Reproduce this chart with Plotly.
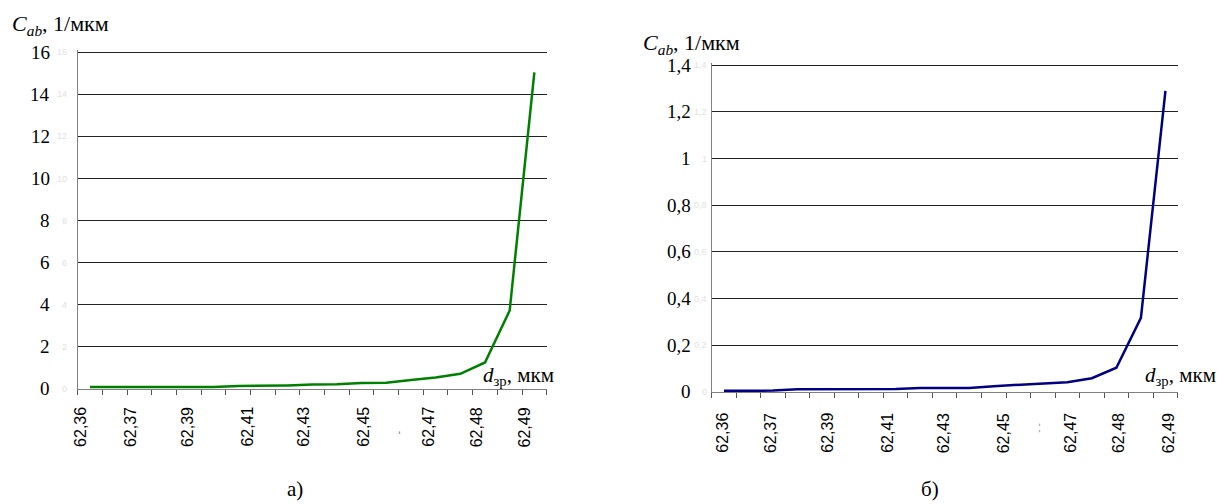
import plotly.graph_objects as go

# ---- data -------------------------------------------------------------
cat_index = list(range(19))  # 19 category points along d_зр
c_ab_a = [0.10, 0.10, 0.10, 0.10, 0.10, 0.10, 0.14, 0.15, 0.17, 0.21, 0.23,
          0.29, 0.30, 0.43, 0.55, 0.72, 1.26, 3.73, 15.05]
c_ab_b = [0.005, 0.005, 0.006, 0.012, 0.012, 0.012, 0.012, 0.013, 0.017, 0.017,
          0.017, 0.025, 0.030, 0.035, 0.042, 0.059, 0.104, 0.318, 1.29]
x_tick_labels = ["62,36", "62,37", "62,39", "62,41", "62,43", "62,45",
                 "62,47", "62,48", "62,49"]
# label positions in category units (as placed in the figure)
x_label_pos_a = [-0.41, 1.62, 3.93, 6.34, 8.62, 11.05, 13.68, 15.65, 17.6]
x_label_pos_b = [-0.09, 1.88, 4.19, 6.64, 8.94, 11.39, 14.1, 16.07, 18.11]
y_ticks_a = [0, 2, 4, 6, 8, 10, 12, 14, 16]
y_ticks_b = [0, 0.2, 0.4, 0.6, 0.8, 1.0, 1.2, 1.4]

# page body has an 8px margin, so the figure is sized/positioned to compensate
OFF = 8
W, H = 1232 - OFF, 504 - OFF
SERIF = "Times New Roman, Liberation Serif, serif"
SANS = "Arial, Liberation Sans, sans-serif"

def px_x(p):
    return (p - OFF) / W

def px_y(p):
    return 1 - (p - OFF) / H

def fmt(v):
    return f"{v:g}".replace(".", ",")

fig = go.Figure()
fig.add_trace(go.Scatter(x=cat_index, y=c_ab_a, mode="lines",
                         line=dict(color="#008000", width=2.5),
                         xaxis="x", yaxis="y", showlegend=False))
fig.add_trace(go.Scatter(x=cat_index, y=c_ab_b, mode="lines",
                         line=dict(color="#000080", width=2.5),
                         xaxis="x2", yaxis="y2", showlegend=False))

boundaries = [i - 0.5 for i in range(20)]

common_x = dict(range=[-0.5, 18.5], tickvals=boundaries, showticklabels=False,
                ticks="outside", ticklen=5, tickcolor="#555555", tickwidth=1,
                showline=True, linecolor="#808080", linewidth=1,
                showgrid=False, zeroline=False, fixedrange=True)
common_y = dict(ticks="", showline=True, linecolor="#808080", linewidth=1,
                showgrid=True, gridcolor="#222222", gridwidth=1, zeroline=False,
                showticklabels=False)

# y ranges padded slightly above the top tick so its gridline is drawn
top_a, top_b = 16.1, 1.409
y0_a, ppu_a = 389.0, (389.0 - 52.3) / 16
y0_b, ppu_b = 392.0, (392.0 - 65.3) / 1.4

fig.update_layout(
    width=W, height=H, margin=dict(l=0, r=0, t=0, b=0),
    paper_bgcolor="white", plot_bgcolor="white", separators=", ",
    xaxis=dict(domain=[px_x(77.7), px_x(546.7)], anchor="y", **common_x),
    yaxis=dict(domain=[px_y(y0_a), px_y(y0_a - top_a * ppu_a)], anchor="x",
               range=[0, top_a], tickvals=y_ticks_a, **common_y),
    xaxis2=dict(domain=[px_x(711.7), px_x(1177.7)], anchor="y2", **common_x),
    yaxis2=dict(domain=[px_y(y0_b), px_y(y0_b - top_b * ppu_b)], anchor="x2",
                range=[0, top_b], tickvals=y_ticks_b, **common_y),
)

ann = []
# x tick labels (rotated)
for txt, p in zip(x_tick_labels, x_label_pos_a):
    ann.append(dict(x=p, xref="x", y=px_y(427), yref="paper", text=txt,
                    textangle=-90, showarrow=False, xanchor="center", yanchor="middle",
                    font=dict(family=SANS, size=16, color="black")))
for txt, p in zip(x_tick_labels, x_label_pos_b):
    ann.append(dict(x=p, xref="x2", y=px_y(433), yref="paper", text=txt,
                    textangle=-90, showarrow=False, xanchor="center", yanchor="middle",
                    font=dict(family=SANS, size=16, color="black")))
# stray dash marks
ann.append(dict(x=12.46, xref="x", y=px_y(437), yref="paper", text="-",
                textangle=-90, showarrow=False, font=dict(family=SANS, size=11, color="#777777")))
ann.append(dict(x=12.81, xref="x2", y=px_y(435), yref="paper", text="- -",
                textangle=-90, showarrow=False, font=dict(family=SANS, size=10, color="#999999")))
# y tick labels: black serif ones plus faint original ones near the axis
for v in y_ticks_a:
    ann.append(dict(x=0, xref="x domain", y=v, yref="y", text=fmt(v), showarrow=False,
                    xanchor="right", xshift=-26, yanchor="middle",
                    font=dict(family=SERIF, size=19, color="black")))
    ann.append(dict(x=0, xref="x domain", y=v, yref="y", text=fmt(v), showarrow=False,
                    xanchor="right", xshift=-9, yanchor="middle",
                    font=dict(family=SANS, size=9, color="#e2e2e2")))
for v in y_ticks_b:
    ann.append(dict(x=0, xref="x2 domain", y=v, yref="y2", text=fmt(v), showarrow=False,
                    xanchor="right", xshift=-19, yanchor="middle",
                    font=dict(family=SERIF, size=19, color="black")))
    ann.append(dict(x=0, xref="x2 domain", y=v, yref="y2", text=fmt(v), showarrow=False,
                    xanchor="right", xshift=-3, yanchor="middle",
                    font=dict(family=SANS, size=9, color="#e2e2e2")))
# axis titles
ytitle = "<i>C</i><sub><i>ab</i></sub>, 1/мкм"
xtitle = "<i>d</i><sub>зр</sub>, мкм"
ann.append(dict(x=px_x(10), xref="paper", y=px_y(9), yref="paper", text=ytitle,
                showarrow=False, xanchor="left", yanchor="top",
                font=dict(family=SERIF, size=22, color="black")))
ann.append(dict(x=px_x(641), xref="paper", y=px_y(28), yref="paper", text=ytitle,
                showarrow=False, xanchor="left", yanchor="top",
                font=dict(family=SERIF, size=22, color="black")))
ann.append(dict(x=px_x(481), xref="paper", y=px_y(391), yref="paper", text=xtitle,
                showarrow=False, xanchor="left", yanchor="bottom",
                font=dict(family=SERIF, size=21, color="black")))
ann.append(dict(x=px_x(1143), xref="paper", y=px_y(391), yref="paper", text=xtitle,
                showarrow=False, xanchor="left", yanchor="bottom",
                font=dict(family=SERIF, size=21, color="black")))
# captions
ann.append(dict(x=px_x(295), xref="paper", y=px_y(503), yref="paper", text="а)",
                showarrow=False, xanchor="center", yanchor="bottom",
                font=dict(family=SERIF, size=21, color="black")))
ann.append(dict(x=px_x(930), xref="paper", y=px_y(503), yref="paper", text="б)",
                showarrow=False, xanchor="center", yanchor="bottom",
                font=dict(family=SERIF, size=21, color="black")))

fig.update_layout(annotations=ann)
fig.write_html("out.html")
